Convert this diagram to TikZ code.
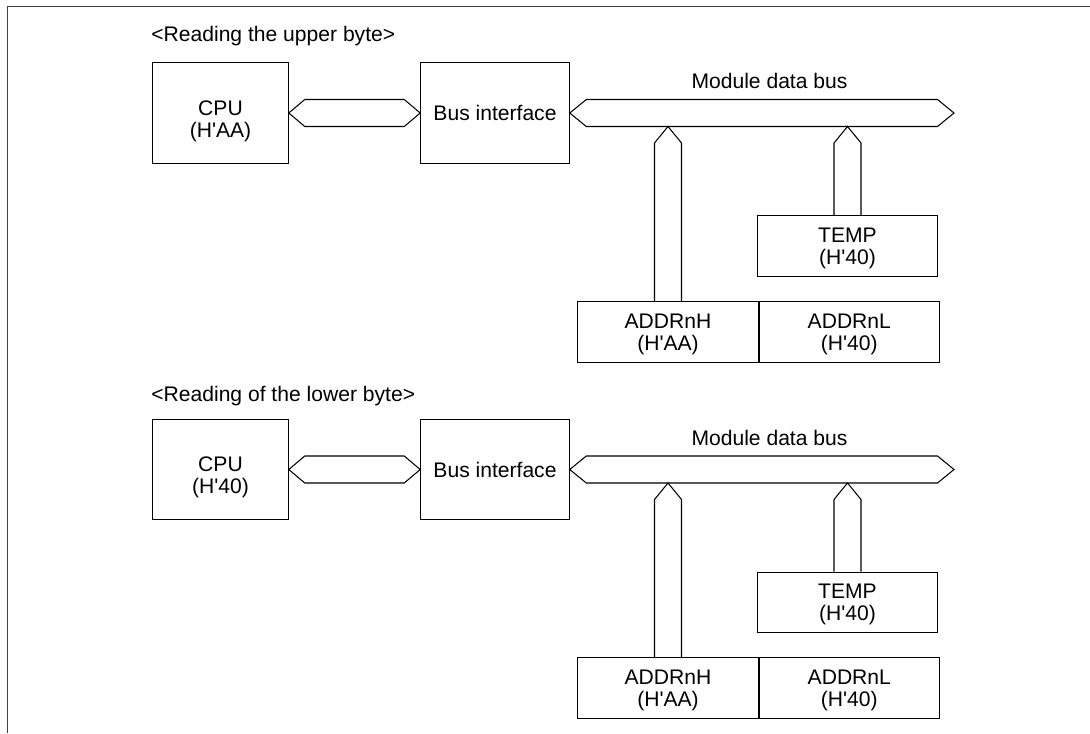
\documentclass[tikz,border=0pt]{standalone}
\usepackage{fontspec}
\setmainfont{Liberation Sans}
\usetikzlibrary{positioning,calc}

\begin{document}
\begin{tikzpicture}[
    blk/.style={draw,semithick,align=center,inner sep=0pt,text depth=0pt,
      minimum height=2.01cm,font=\fontsize{12}{12.3}\selectfont},
    cpu/.style={blk,minimum width=2.71cm,text height=27.4pt},
    reg/.style={draw,semithick,align=center,inner sep=0pt,text depth=0pt,
      minimum width=3.6cm,minimum height=1.21cm,
      font=\fontsize{12}{12.3}\selectfont},
    bus/.style={semithick,line join=miter},
    ttl/.style={anchor=base west,inner sep=0pt,font=\fontsize{12}{14}\selectfont},
    lab/.style={anchor=base,inner sep=0pt,font=\fontsize{12}{14}\selectfont}
  ]
    \useasboundingbox (0,0) rectangle (21.8,-14.66);
    \draw[black!75,line width=0.9pt] (21.8,-0.134) -- (0.146,-0.134) -- (0.146,-14.66);

    % upper byte
    \node[ttl] (ttlU) at (3.02,-0.834) {<Reading the upper byte>};
    \node[cpu] (cpuU) at (4.41,-2.26) {CPU\\(H\textquotesingle AA)};
    \node[blk,minimum width=2.97cm] (bifU) at (9.9,-2.26) {Bus interface};
    \coordinate (brU) at (19.08,-2.26);
    \node[lab] (labU) at (15.39,-1.76) {Module data bus};
    \node[reg] (tmpU) at (16.95,-4.92) {TEMP\\(H\textquotesingle 40)};
    \node[reg,minimum width=3.61cm] (ahU) at (13.36,-6.64) {ADDRnH\\(H\textquotesingle AA)};
    \node[reg,right=0pt of ahU] (alU) {ADDRnL\\(H\textquotesingle 40)};

    % lower byte
    \node[ttl] (ttlL) at (3.02,-8.034) {<Reading of the lower byte>};
    \node[cpu] (cpuL) at (4.41,-9.39) {CPU\\(H\textquotesingle 40)};
    \node[blk,minimum width=2.97cm] (bifL) at (9.9,-9.39) {Bus interface};
    \coordinate (brL) at (19.08,-9.39);
    \node[lab] (labL) at (15.39,-8.9) {Module data bus};
    \node[reg] (tmpL) at (16.95,-12.05) {TEMP\\(H\textquotesingle 40)};
    \node[reg,minimum width=3.61cm] (ahL) at (13.36,-13.76) {ADDRnH\\(H\textquotesingle AA)};
    \node[reg,right=0pt of ahL] (alL) {ADDRnL\\(H\textquotesingle 40)};

    % buses
    \foreach \s in {U,L} {
      \draw[bus] (cpu\s.east) -- ++(0.32,0.27) -- ($(bif\s.west)+(-0.32,0.27)$)
        -- (bif\s.west) -- ++(-0.32,-0.27) -- ($(cpu\s.east)+(0.32,-0.27)$) -- cycle;
      \draw[bus] (bif\s.east) -- ++(0.33,0.27) -- ($(br\s)+(-0.33,0.27)$)
        -- (br\s) -- ++(-0.33,-0.27) -- ($(bif\s.east)+(0.33,-0.27)$) -- cycle;
      \foreach \r in {ah\s,tmp\s}
        \draw[bus] ($(\r.north)+(-0.27,0)$) -- ($(\r.north |- br\s)+(-0.27,-0.6)$)
          -- ($(\r.north |- br\s)+(0,-0.27)$) -- ($(\r.north |- br\s)+(0.27,-0.6)$)
          -- ($(\r.north)+(0.27,0)$);
    }
  \end{tikzpicture}
\end{document}
